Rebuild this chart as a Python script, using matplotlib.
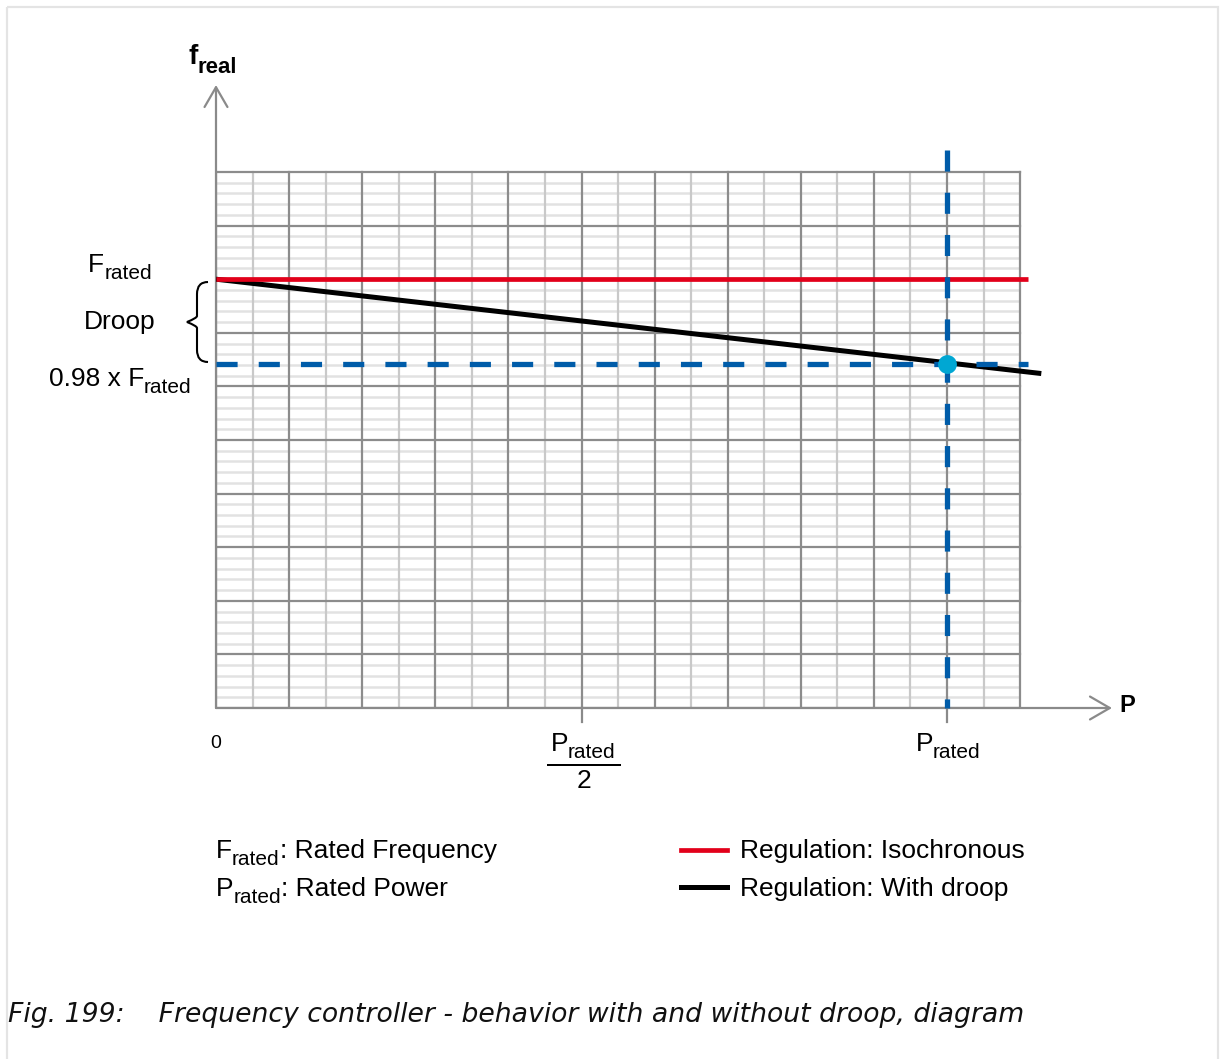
import numpy as np
import matplotlib
matplotlib.use("Agg")
import matplotlib.pyplot as plt
from matplotlib.path import Path
from matplotlib.patches import PathPatch, Rectangle
from matplotlib.transforms import Affine2D

# ------------------------------------------------------------
# style
# ------------------------------------------------------------
plt.rcParams["font.family"] = ["Liberation Sans", "DejaVu Sans"]

RED = "#e2001a"
BLUE = "#005ca9"
CYAN = "#00a7d3"
AXIS_GRAY = "#8a8a8a"
MAJOR_GRAY = "#8c8c8c"
MINOR_V = "#c9c9c9"
MINOR_H = "#e2e2e2"

# ------------------------------------------------------------
# data (P in units of P_rated, f in grid rows)
# ------------------------------------------------------------
iso_p = [0.0, 1.111]
iso_f = [8.0, 8.0]

droop_p = [0.0, 1.129]
droop_f = [8.0, 6.24]

rated_p = 1.0
rated_f_droop = 6.42

x_ticks = [0.5, 1.0]
grid_xmax = 1.1
grid_ymax = 10

# ------------------------------------------------------------
# figure
# ------------------------------------------------------------
W, H = 1227, 1059
fig = plt.figure(figsize=(W / 100, H / 100), dpi=100)
renderer = fig.canvas.get_renderer()

# pixel -> figure fraction helper
def px(x, y):
    return x / W, 1 - y / H

pix = Affine2D().scale(1 / W, -1 / H).translate(0, 1) + fig.transFigure


def text_w(s, fs, weight="normal"):
    t = fig.text(0, 0, s, fontsize=fs, fontweight=weight)
    w = t.get_window_extent(renderer).width
    t.remove()
    return w


def sub_label(x, y, base, sub, after="", fs=19, sfs=15, drop=7,
              weight="normal", ha="left"):
    wb = text_w(base, fs, weight)
    ws = text_w(sub, sfs, weight)
    wa = text_w(after, fs, weight) if after else 0
    if ha == "center":
        x = x - (wb + ws + wa) / 2
    fig.text(*px(x, y), base, fontsize=fs, fontweight=weight, va="baseline")
    fig.text(*px(x + wb, y + drop), sub, fontsize=sfs, fontweight=weight,
             va="baseline")
    if after:
        fig.text(*px(x + wb + ws, y), after, fontsize=fs, fontweight=weight,
                 va="baseline")


# outer light frame
fig.patches.append(Rectangle((7, 7), 1211, 1100, transform=pix, fill=False,
                             edgecolor="#e4e4e4", linewidth=1.6, clip_on=False))

# axes spanning origin (216,708) to arrow tips (1112, 85)
x0, y0 = px(216, 708)
x1, y1 = px(1112, 85)
ax = fig.add_axes([x0, y0, x1 - x0, y1 - y0])
ax.set_xlim(0, 896 / 731)
ax.set_ylim(0, 623 / 53.6)
ax.axis("off")

# grid
for yy in np.arange(0.2, grid_ymax, 0.2):
    if abs(yy - round(yy)) > 1e-6:
        ax.plot([0, grid_xmax], [yy, yy], color=MINOR_H, lw=1.8,
                solid_capstyle="butt", zorder=1)
for xx in np.arange(0.05, grid_xmax, 0.1):
    ax.plot([xx, xx], [0, grid_ymax], color=MINOR_V, lw=1.6, zorder=2)
for yy in range(0, grid_ymax + 1):
    ax.plot([0, grid_xmax], [yy, yy], color=MAJOR_GRAY, lw=1.6, zorder=3)
for xx in np.arange(0, grid_xmax + 0.01, 0.1):
    ax.plot([xx, xx], [0, grid_ymax], color=MAJOR_GRAY, lw=1.6, zorder=3)

# axis arrows
arrow = dict(arrowstyle="->,head_length=0.95,head_width=0.55",
             color=AXIS_GRAY, lw=1.6, mutation_scale=15, shrinkA=0, shrinkB=0)
ax.annotate("", xy=(0, 623 / 53.6), xytext=(0, 0), arrowprops=arrow, zorder=4)
ax.annotate("", xy=(896 / 731, 0), xytext=(0, 0), arrowprops=arrow, zorder=4)
for t in x_ticks:
    ax.plot([t, t], [0, -0.27], color=AXIS_GRAY, lw=1.6, clip_on=False, zorder=4)

# characteristic lines
ax.plot(iso_p, iso_f, color=RED, lw=3.4, solid_capstyle="butt", zorder=6)
ax.plot(droop_p, droop_f, color="black", lw=3.6, solid_capstyle="butt", zorder=5)
ax.plot([0, 1.111], [rated_f_droop, rated_f_droop], color=BLUE, lw=3.8,
        dashes=(4, 4), zorder=7)
ax.plot([rated_p, rated_p], [10.41, 0], color=BLUE, lw=3.8,
        dashes=(4, 4), zorder=7, clip_on=False)
ax.plot([rated_p], [rated_f_droop], "o", color=CYAN, markersize=12.5, zorder=8)

# ------------------------------------------------------------
# labels
# ------------------------------------------------------------
FS = 19
SFS = 15

sub_label(188, 64, "f", "real", fs=20, sfs=16, drop=9, weight="bold")
fig.text(*px(1127, 706), "P", fontsize=17, fontweight="bold",
         ha="center", va="center")
fig.text(*px(216, 744), "0", fontsize=14, ha="center", va="center")

sub_label(583, 751, "P", "rated", fs=FS, sfs=SFS, ha="center")
fig.patches.append(Rectangle((547, 764), 74, 2, transform=pix,
                             facecolor="black", edgecolor="none"))
fig.text(*px(584, 788), "2", fontsize=FS, ha="center", va="baseline")
sub_label(948, 751, "P", "rated", fs=FS, sfs=SFS, ha="center")

sub_label(120, 272, "F", "rated", fs=FS, sfs=SFS, ha="center")
fig.text(*px(120, 329), "Droop", fontsize=FS, ha="center", va="baseline")
sub_label(120, 386, "0.98 x F", "rated", fs=FS, sfs=SFS, ha="center")

# curly brace
verts = [(208, 282), (197, 282), (197, 294),
         (197, 316), (197, 316), (197, 318), (187, 322),
         (197, 326), (197, 328), (197, 328), (197, 350),
         (197, 362), (208, 362)]
codes = [Path.MOVETO, Path.CURVE3, Path.CURVE3,
         Path.LINETO, Path.LINETO, Path.CURVE3, Path.CURVE3,
         Path.CURVE3, Path.CURVE3, Path.LINETO, Path.LINETO,
         Path.CURVE3, Path.CURVE3]
fig.patches.append(PathPatch(Path(verts, codes), transform=pix, fill=False,
                             edgecolor="black", linewidth=1.5))

# legend / explanations
sub_label(216, 858, "F", "rated", ": Rated Frequency", fs=FS, sfs=SFS)
sub_label(216, 896, "P", "rated", ": Rated Power", fs=FS, sfs=SFS)
fig.lines.append(plt.Line2D([681 / W, 727 / W], [1 - 850 / H, 1 - 850 / H],
                            transform=fig.transFigure, color=RED, lw=3.4))
fig.lines.append(plt.Line2D([681 / W, 727 / W], [1 - 887 / H, 1 - 887 / H],
                            transform=fig.transFigure, color="black", lw=3.6))
fig.text(*px(740, 858), "Regulation: Isochronous", fontsize=FS, va="baseline")
fig.text(*px(740, 896), "Regulation: With droop", fontsize=FS, va="baseline")

# caption
fig.text(*px(8, 1022), "Fig. 199:    Frequency controller - behavior with and without droop, diagram",
         fontsize=19.2, family="DejaVu Sans", style="italic", va="baseline",
         color="#111111")

fig.savefig("out.png", dpi=100)
